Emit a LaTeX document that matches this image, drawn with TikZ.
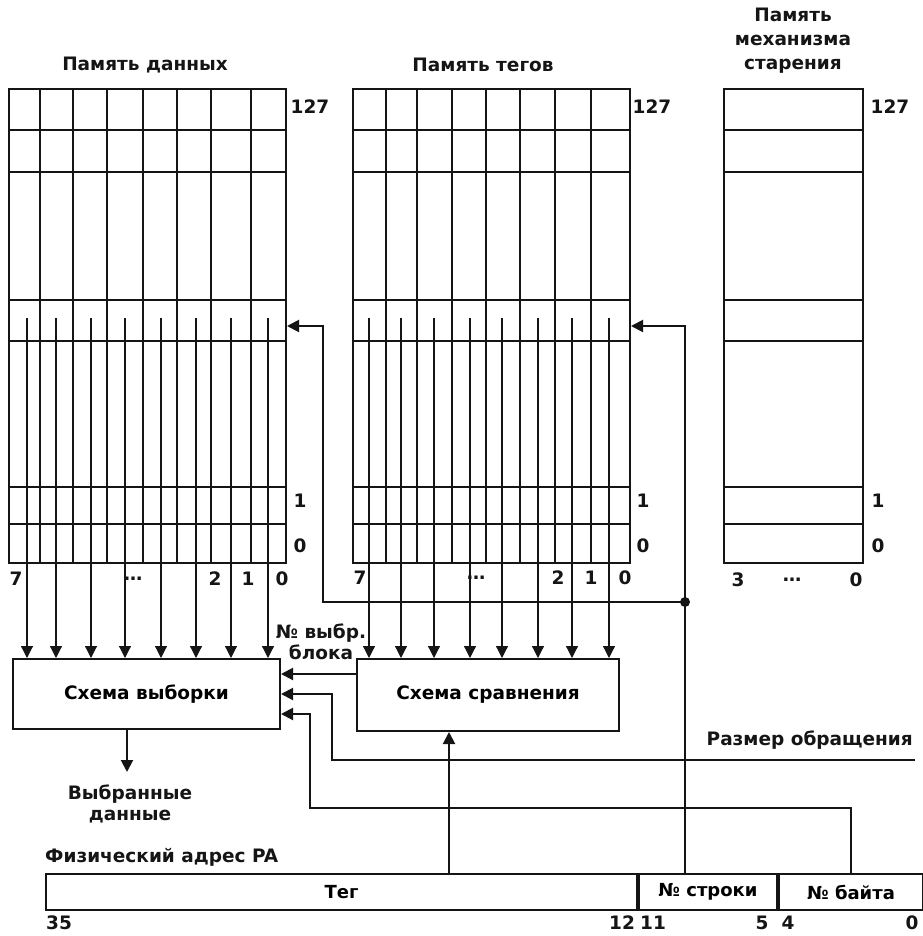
\documentclass[tikz,border=0pt]{standalone}
\usepackage{fontspec}
\setmainfont{DejaVu Sans}
\usetikzlibrary{arrows.meta,positioning}
\definecolor{Ink}{HTML}{151515}
\tikzset{
 lbl/.style={font=\bfseries\fontsize{18.5}{24}\selectfont,text=Ink,inner sep=1pt,align=center},
 memblock/.style={draw=Ink,line width=2pt,inner sep=0pt,anchor=north west},
 grid/.style={draw=Ink,line width=2pt},
 unit/.style={draw=Ink,line width=2pt,fill=white,inner sep=0pt,
   font=\bfseries\fontsize{18.5}{22}\selectfont},
 field/.style={unit,minimum height=36pt,font=\bfseries\fontsize{18}{22}\selectfont},
 arr/.style={-{Triangle[length=12pt,width=12pt]},line width=2pt,draw=Ink},
 bitarr/.style={-{Triangle[length=12pt,width=12pt]},line width=1.2pt,draw=Ink}
}
\begin{document}
\begin{tikzpicture}[x=1pt,y=-1pt]
\useasboundingbox (0,0) rectangle (922,936);
% memory arrays
\node[memblock,minimum width=277pt,minimum height=474pt] (dmem) at (8,88) {};
\node[memblock,minimum width=277pt,minimum height=474pt] (tmem) at (352,88) {};
\node[memblock,minimum width=139pt,minimum height=474pt] (amem) at (723,88) {};
\foreach \y in {130,172,300,341,487,524}{
  \draw[grid] (dmem.west |- 0,\y) -- (dmem.east |- 0,\y);
  \draw[grid] (tmem.west |- 0,\y) -- (tmem.east |- 0,\y);
  \draw[grid] (amem.west |- 0,\y) -- (amem.east |- 0,\y);
}
\foreach \x in {40,73,107,143,177,211,251}
  \draw[grid] (\x,0 |- dmem.north) -- (\x,0 |- dmem.south);
\foreach \x in {386,417,452,486,520,555,591}
  \draw[grid] (\x,0 |- tmem.north) -- (\x,0 |- tmem.south);
% titles
\node[lbl] (dtitle) at (145,65) {Память данных};
\node[lbl] (ttitle) at (483,65) {Память тегов};
\node[lbl] (atitle) at (793,41) {Память\\механизма\\старения};
% row numbers
\foreach \m/\x in {d/310,t/652,a/890}
  \node[lbl] (\m row127) at (\x,107) {127};
\foreach \m/\x in {d/300,t/643,a/878}{
  \node[lbl] (\m row1) at (\x,501) {1};
  \node[lbl] (\m row0) at (\x,546) {0};
}
% column numbers
\foreach \t/\x in {7/16,2/215,1/248,0/282}
  \node[lbl] (dcol\t) at (\x,579) {\t};
\node[lbl] (ddots) at (133,579) {\ldots};
\foreach \t/\x in {7/360,2/558,1/591,0/625}
  \node[lbl] (tcol\t) at (\x,578) {\t};
\node[lbl] (tdots) at (476,578) {\ldots};
\node[lbl] (acol3) at (738,580) {3};
\node[lbl] (adots) at (792,580) {\ldots};
\node[lbl] (acol0) at (856,580) {0};
% units
\node[unit,minimum width=267pt,minimum height=70pt] (sel) at (146.5,694) {Схема выборки};
\node[unit,minimum width=262pt,minimum height=72pt] (cmp) at (488,695) {Схема сравнения};
\node[lbl] (blk) at (321,642) {№ выбр.\\[-3pt]блока};
\node[lbl] (out) at (130,804) {Выбранные\\[-3pt]данные};
\node[lbl,anchor=east] (size) at (914,740) {Размер обращения};
% physical address
\node[lbl,anchor=west] (pa) at (44,857) {Физический адрес PA};
\node[field,minimum width=591pt,anchor=north west] (patag) at (45,873) {Тег};
\node[field,minimum width=138pt,right=0pt of patag] (parow) {№ строки};
\node[field,minimum width=144pt,right=0pt of parow] (pabyte) {№ байта};
\node[lbl,anchor=west] (b35) at (45,923) {35};
\foreach \t/\x in {12/622,11/653,5/762,4/788,0/912}
  \node[lbl] (b\t) at (\x,923) {\t};
% bit lines
\foreach \x in {27,56,91,125,161,196,231,268}
  \draw[bitarr] (\x,318) -- (\x,0 |- sel.north);
\foreach \x in {369,401,434,470,502,538,572,609}
  \draw[bitarr] (\x,318) -- (\x,0 |- cmp.north);
% connectors
\coordinate (fork) at (685,602);
\coordinate (djog) at (323,602);
\coordinate (szend) at (915,760);
\draw[arr] (parow.north -| fork) |- (tmem.east);
\draw[arr] (fork) -- (djog) |- (dmem.east);
\fill[Ink] (fork) circle (5pt);
\draw[arr] ([yshift=21pt]cmp.west) -- ([yshift=21pt]cmp.west -| sel.east);
\draw[arr] (szend) -| ([xshift=51pt]sel.east) -- (sel.east);
\draw[arr] (pabyte.north) |- (310,808) |- ([yshift=-20pt]sel.east);
\draw[arr] (patag.north -| 449,0) -- (449,0 |- cmp.south);
\draw[arr] (127,0 |- sel.south) -- (127,772);
\end{tikzpicture}
\end{document}
